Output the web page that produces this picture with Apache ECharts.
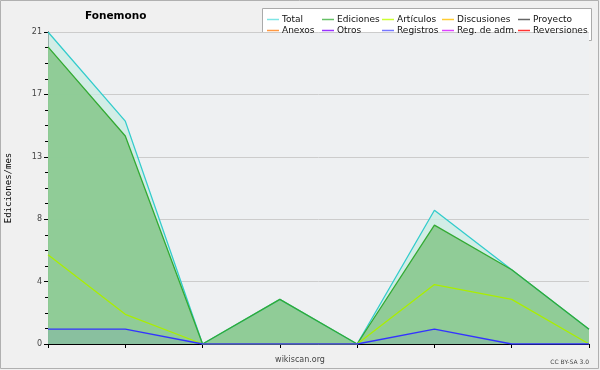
<!DOCTYPE html>
<html>
<head>
<meta charset="utf-8">
<script src="https://cdn.jsdelivr.net/npm/echarts@6/dist/echarts.min.js"></script>
<style>
html,body{margin:0;padding:0;background:#f0f0f0;}
#chart{width:600px;height:370px;}
</style>
</head>
<body>
<div id="chart"></div>
<script>
const categories = ['1','2','3','4','5','6','7','8'];
const total = [21, 15, 0, 3, 0, 9, 5, 1];
const ediciones = [20, 14, 0, 3, 0, 8, 5, 1];
const articulos = [6, 2, 0, 0, 0, 4, 3, 0];
const registros = [1, 1, 0, 0, 0, 1, 0, 0];
const legendNames = ['Total','Ediciones','Artículos','Discusiones','Proyecto','Anexos','Otros','Registros','Reg. de adm.','Reversiones'];
const legendColors = ['#7fe5e5','#66c066','#ccff33','#ffcc33','#666666','#ff9944','#9933ff','#7777ff','#dd44ff','#ff3333'];

const chart = echarts.init(document.getElementById('chart'), null, {renderer:'canvas'});

const seriesStyle = {
  'Total': {line:'#33cccc', area:'rgba(200,236,226,0.75)', data: total},
  'Ediciones': {line:'#33aa33', area:'rgba(140,202,146,0.95)', data: ediciones},
  'Artículos': {line:'#aaee00', area:null, data: articulos},
  'Registros': {line:'#3333ff', area:'rgba(90,110,220,0.12)', data: registros}
};

const series = legendNames.map((n, i) => {
  const s = seriesStyle[n];
  const o = {
    name: n, type: 'line', symbol: 'none', animation: false,
    color: legendColors[i],
    itemStyle: {color: legendColors[i]},
    data: s ? s.data : [],
    lineStyle: {width: 1.3, color: s ? s.line : legendColors[i]}
  };
  if (s && s.area) o.areaStyle = {color: s.area, opacity: 1};
  return o;
});

const legends = [];
const colX = [267, 322, 382, 442, 518];
for (let c = 0; c < 5; c++) {
  legends.push({
    orient: 'vertical', left: colX[c], top: 14, itemGap: 0, padding: 0,
    itemWidth: 12, itemHeight: 11,
    icon: 'path://M0,5 L12,5 L12,6.5 L0,6.5 Z',
    data: [c, c + 5].map(k => ({
      name: legendNames[k],
      itemStyle: {color: legendColors[k], borderWidth: 0},
      lineStyle: {color: legendColors[k], width: 0, opacity: 0}
    })),
    selectedMode: false,
    textStyle: {fontFamily: 'DejaVu Sans', fontSize: 9, color: '#111', lineHeight: 11, padding: [0, 0, 0, -2]}
  });
}

chart.setOption({
  backgroundColor: '#f0f0f0',
  animation: false,
  title: {text: 'Fonemono', left: 85, top: 11, padding: 0,
    textStyle: {fontFamily: 'DejaVu Sans', fontWeight: 'bold', fontSize: 10.5, color: '#000'}},
  legend: legends,
  grid: {left: 48, right: 11, top: 32, bottom: 26, show: true, backgroundColor: '#eef0f2', borderWidth: 0,
    containLabel: false, outerBoundsMode: 'none'},
  xAxis: {
    type: 'category', data: categories, boundaryGap: false,
    axisLine: {lineStyle: {color: '#000', width: 1}},
    axisTick: {show: true, length: 4, inside: false, lineStyle: {color: '#000'}},
    axisLabel: {show: false},
    splitLine: {show: false}
  },
  yAxis: {
    type: 'value', min: 0, max: 21, interval: 4.2,
    name: 'Ediciones/mes', nameLocation: 'middle', nameGap: 35,
    nameTextStyle: {fontFamily: 'DejaVu Sans Mono', fontSize: 9, color: '#000'},
    axisLine: {show: true, lineStyle: {color: '#000', width: 1}},
    axisTick: {show: true, length: 4, lineStyle: {color: '#000'}},
    minorTick: {show: true, splitNumber: 4, length: 3, lineStyle: {color: '#000'}},
    axisLabel: {fontFamily: 'DejaVu Sans', fontSize: 8, color: '#444', margin: 6,
      formatter: v => String(Math.round(v))},
    splitLine: {show: true, lineStyle: {color: '#cccccc', width: 1}}
  },
  graphic: [
    {type: 'rect', z: -1, shape: {x: 262.5, y: 8.5, width: 329, height: 32},
      style: {fill: '#ffffff', stroke: '#aaaaaa', lineWidth: 1}},
    {type: 'rect', shape: {x: 0.5, y: 0.5, width: 598, height: 368},
      style: {fill: null, stroke: '#b0b0b0', lineWidth: 1}, silent: true},
    {type: 'text', left: 'center', top: 356,
      style: {text: 'wikiscan.org', fontFamily: 'DejaVu Sans', fontSize: 8, fill: '#444'}},
    {type: 'text', right: 11, top: 359,
      style: {text: 'CC BY-SA 3.0', fontFamily: 'DejaVu Sans', fontSize: 6, fill: '#444'}}
  ],
  series: series
});
</script>
</body>
</html>
